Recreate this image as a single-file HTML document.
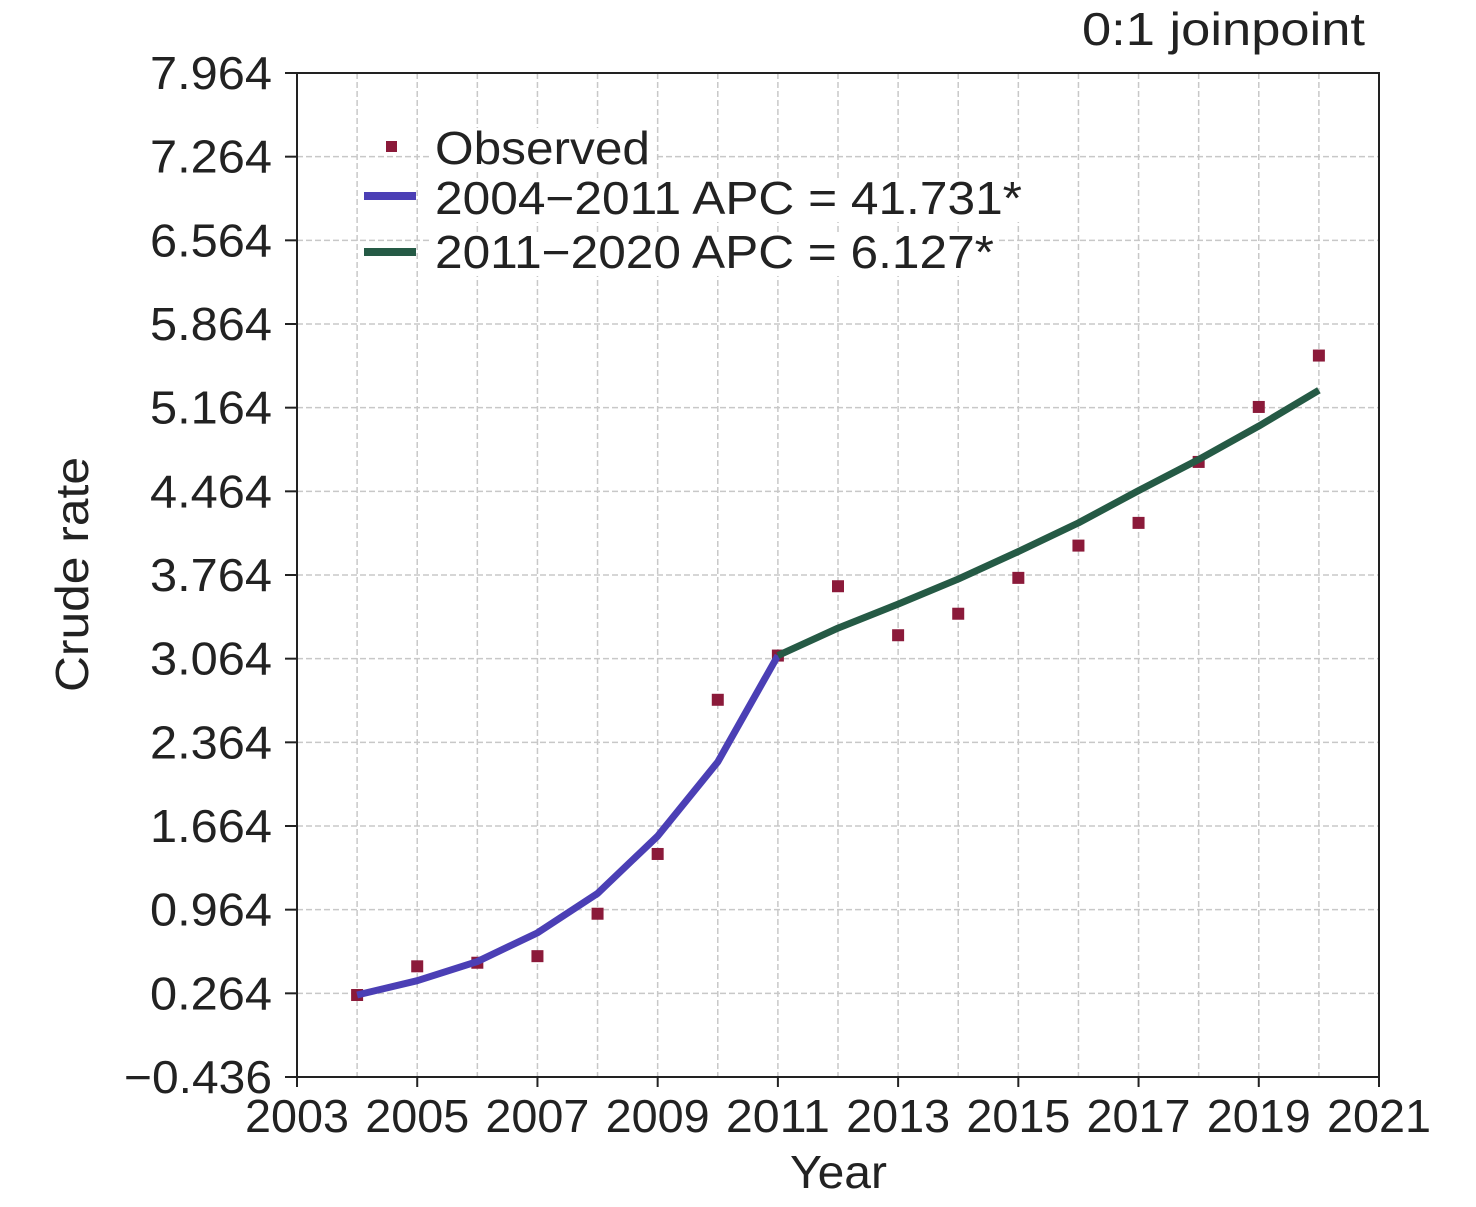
<!DOCTYPE html>
<html><head><meta charset="utf-8"><style>
html,body{margin:0;padding:0;background:#fff;}
svg{display:block;font-family:"Liberation Sans",sans-serif;}
</style></head><body>
<svg id="chart" width="1476" height="1207" viewBox="0 0 1476 1207" xmlns="http://www.w3.org/2000/svg">
<text x="1082" y="45" font-size="46" textLength="283" lengthAdjust="spacingAndGlyphs" fill="#222">0:1 joinpoint</text>
<g id="grid"></g>
<g id="axes"></g>
<g id="series"></g>
<g id="legend">
<rect x="386" y="141" width="11" height="11" fill="#8b1a3a"/>
<rect x="432" y="128" width="222" height="44" fill="#fff"/>
<rect x="432" y="178" width="594" height="44" fill="#fff"/>
<rect x="432" y="232" width="566" height="44" fill="#fff"/>
<text x="435" y="164" font-size="46" textLength="215" lengthAdjust="spacingAndGlyphs" fill="#222">Observed</text>
<line x1="364" y1="196" x2="416" y2="196" stroke="#4b3fb5" stroke-width="8"/>
<text x="435" y="214" font-size="46" textLength="587" lengthAdjust="spacingAndGlyphs" fill="#222">2004−2011 APC = 41.731*</text>
<line x1="364" y1="252" x2="416" y2="252" stroke="#255a45" stroke-width="8"/>
<text x="435" y="268" font-size="46" textLength="559" lengthAdjust="spacingAndGlyphs" fill="#222">2011−2020 APC = 6.127*</text>
</g>
<text x="790" y="1188" font-size="46" textLength="97" lengthAdjust="spacingAndGlyphs" fill="#222">Year</text>
<text transform="translate(88,692) rotate(-90)" font-size="46" textLength="235" lengthAdjust="spacingAndGlyphs" fill="#222">Crude rate</text>
</svg>
<script>
const years=[2004,2005,2006,2007,2008,2009,2010,2011,2012,2013,2014,2015,2016,2017,2018,2019,2020];
const observed=[0.25,0.49,0.52,0.575,0.93,1.43,2.72,3.09,3.67,3.26,3.44,3.74,4.01,4.20,4.71,5.17,5.60];
const fit1Years=[2004,2005,2006,2007,2008,2009,2010,2011];
const fit1=[0.25,0.37,0.53,0.77,1.10,1.58,2.20,3.09];
const fit2Years=[2011,2012,2013,2014,2015,2016,2017,2018,2019,2020];
const fit2=[3.09,3.32,3.52,3.73,3.96,4.20,4.47,4.73,5.01,5.31];
const yTicks=[-0.436,0.264,0.964,1.664,2.364,3.064,3.764,4.464,5.164,5.864,6.564,7.264,7.964];
const xTicks=[2003,2005,2007,2009,2011,2013,2015,2017,2019,2021];
const X0=297,X1=1379,Y0=1077,Y1=73;
const xs=v=>X0+(v-2003)/(2021-2003)*(X1-X0);
const ys=v=>Y0-(v+0.436)/(7.964+0.436)*(Y0-Y1);
const NS="http://www.w3.org/2000/svg";
function mk(tag,attrs,parent){const e=document.createElementNS(NS,tag);for(const k in attrs)e.setAttribute(k,attrs[k]);parent.appendChild(e);return e;}
const grid=document.getElementById('grid'),axes=document.getElementById('axes'),series=document.getElementById('series');
for(let y=2004;y<=2020;y++){const l=mk('line',{x1:xs(y),x2:xs(y),y1:Y1,y2:Y0,stroke:'#c8c8c8','stroke-width':1.5,'stroke-dasharray':'6,3'},grid);

}
yTicks.forEach(v=>{const l=mk('line',{x1:X0,x2:X1,y1:ys(v),y2:ys(v),stroke:'#c8c8c8','stroke-width':1.5,'stroke-dasharray':'6,3'},grid);


const t=mk('line',{x1:X0-12,x2:X0,y1:ys(v),y2:ys(v),stroke:'#222','stroke-width':2},axes);


const neg=v<0;
const tx=mk('text',{x:neg?124:150,y:ys(v)+16,'font-size':46,textLength:neg?148:122,lengthAdjust:'spacingAndGlyphs',fill:'#222'},axes);
tx.textContent=v.toFixed(3).replace('-','−');

});
xTicks.forEach(v=>{const t=mk('line',{x1:xs(v),x2:xs(v),y1:Y0,y2:Y0+10,stroke:'#222','stroke-width':2},axes);


const tx=mk('text',{x:xs(v)-52,y:Y0+55,'font-size':46,textLength:104,lengthAdjust:'spacingAndGlyphs',fill:'#222'},axes);
tx.textContent=v;

});
const frame=mk('rect',{x:X0,y:Y1,width:X1-X0,height:Y0-Y1,fill:'none',stroke:'#222','stroke-width':2},axes);


function line(xa,ya,col,name){const p=mk('polyline',{points:xa.map((x,i)=>xs(x)+','+ys(ya[i])).join(' '),fill:'none',stroke:col,'stroke-width':7,'stroke-linejoin':'round'},series);

}
years.forEach((y,i)=>{const r=mk('rect',{x:xs(y)-6,y:ys(observed[i])-6,width:12,height:12,fill:'#8b1a3a'},series);

});
line(fit1Years,fit1,'#4b3fb5','fit-2004-2011');
line(fit2Years,fit2,'#255a45','fit-2011-2020');
</script>
</body></html>
